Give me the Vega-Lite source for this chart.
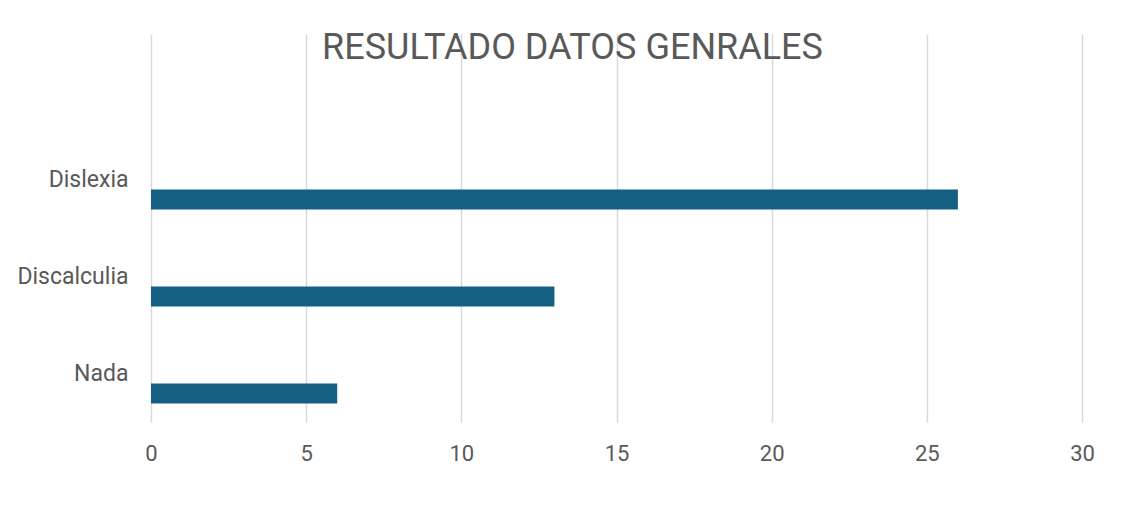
{
  "$schema": "https://vega.github.io/schema/vega-lite/v6.json",
  "autosize": {"type": "none"},
  "width": 931,
  "height": 388,
  "padding": {"left": 151, "top": 34, "right": 44, "bottom": 86},
  "background": "white",
  "title": {
    "text": "RESULTADO DATOS GENRALES",
    "font": "Roboto",
    "fontSize": 36,
    "fontWeight": "normal",
    "color": "#595959",
    "anchor": "middle",
    "frame": "group",
    "baseline": "alphabetic",
    "offset": 0,
    "dy": 61,
    "dx": -44
  },
  "data": {
    "values": [
      {"categoria": "Dislexia", "valor": 26},
      {"categoria": "Discalculia", "valor": 13},
      {"categoria": "Nada", "valor": 6}
    ]
  },
  "mark": {"type": "bar", "color": "#156082", "size": 20, "yOffset": 20},
  "encoding": {
    "y": {
      "field": "categoria",
      "type": "nominal",
      "sort": null,
      "scale": {"domain": [" ", "Dislexia", "Discalculia", "Nada"], "paddingInner": 0, "paddingOuter": 0},
      "axis": {
        "title": null,
        "domain": false,
        "ticks": false,
        "grid": false,
        "labelFont": "Roboto",
        "labelFontSize": 23,
        "labelColor": "#595959",
        "labelPadding": 23
      }
    },
    "x": {
      "field": "valor",
      "type": "quantitative",
      "scale": {"domain": [0, 30], "nice": false},
      "axis": {
        "title": null,
        "values": [0, 5, 10, 15, 20, 25, 30],
        "domain": false,
        "ticks": false,
        "grid": true,
        "gridColor": "#d9d9d9",
        "gridWidth": 1.5,
        "labelFlush": false,
        "labelFont": "Roboto",
        "labelFontSize": 22,
        "labelColor": "#595959",
        "labelPadding": 21
      }
    }
  },
  "config": {"view": {"stroke": null}}
}
